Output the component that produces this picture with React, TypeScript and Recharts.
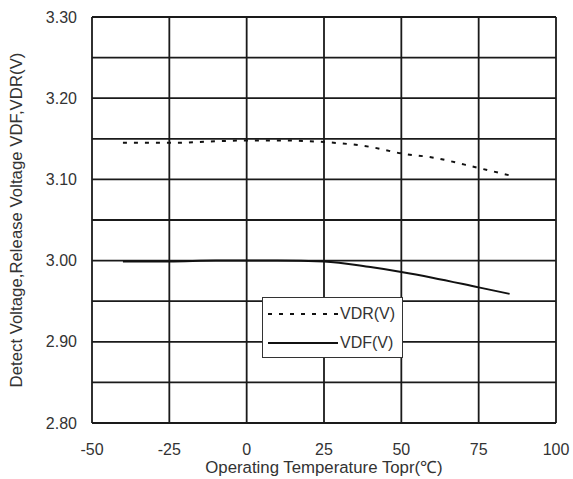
import { LineChart, Line, CartesianGrid, XAxis, YAxis, Label } from "recharts"

const temps = [-40, -25, -10, 0, 10, 25, 40, 50, 60, 75, 85]
const vdr = [3.145, 3.145, 3.147, 3.148, 3.148, 3.146, 3.14, 3.132, 3.127, 3.114, 3.105]
const vdf = [2.999, 2.999, 3.0, 3.0, 3.0, 2.999, 2.992, 2.986, 2.979, 2.967, 2.959]

const xTicks = [-50, -25, 0, 25, 50, 75, 100]
const yTicks = [2.8, 2.85, 2.9, 2.95, 3.0, 3.05, 3.1, 3.15, 3.2, 3.25, 3.3]

const data = temps.map((t, i) => ({ t, vdr: vdr[i], vdf: vdf[i] }))

const font = "'Liberation Sans', Arial, sans-serif"
const txt = { fill: "#333", fontSize: 16, fontFamily: font }
const title = { ...txt, fontSize: 16.8 }

// legend drawn as a plain overlay so it doesn't eat into the plot margins
function LegendBox() {
  return (
    <div
      style={{
        position: "absolute",
        left: 262,
        top: 297,
        width: 141,
        height: 61,
        border: "1.5px solid #333",
        background: "#fff",
        fontFamily: font,
        fontSize: 16,
        color: "#333",
        boxSizing: "border-box",
      }}
    >
      <div style={{ display: "flex", alignItems: "center", height: 31, paddingLeft: 5 }}>
        <svg width={70} height={4}>
          <line x1={0} y1={2} x2={70} y2={2} stroke="#111" strokeWidth={2} strokeDasharray="4 7" />
        </svg>
        <span style={{ marginLeft: 2 }}>VDR(V)</span>
      </div>
      <div style={{ display: "flex", alignItems: "center", height: 27, paddingLeft: 5 }}>
        <svg width={70} height={4}>
          <line x1={0} y1={2} x2={70} y2={2} stroke="#111" strokeWidth={2} />
        </svg>
        <span style={{ marginLeft: 2 }}>VDF(V)</span>
      </div>
    </div>
  )
}

export default function App() {
  return (
    <div style={{ position: "absolute", left: 0, top: 0, width: 573, height: 479, background: "#fff" }}>
      <LineChart width={573} height={479} data={data} margin={{ top: 17, right: 17, left: 0, bottom: 26 }}>
        <CartesianGrid stroke="#1a1a1a" strokeWidth={1.8} horizontalValues={yTicks} verticalValues={xTicks} />
        <XAxis
          dataKey="t"
          type="number"
          domain={[-50, 100]}
          ticks={xTicks}
          height={30}
          axisLine={false}
          tickLine={false}
          tickMargin={15}
          tick={txt}
        >
          <Label value="Operating Temperature Topr(℃)" position="insideBottom" offset={-20} style={title} />
        </XAxis>
        <YAxis
          type="number"
          domain={[2.8, 3.3]}
          ticks={yTicks}
          width={92}
          axisLine={false}
          tickLine={false}
          tickMargin={9}
          interval={0}
          tickFormatter={(v: number) => (Math.round(v * 100) % 10 === 0 ? v.toFixed(2) : "")}
          tick={txt}
        >
          <Label
            value="Detect Voltage,Release Voltage VDF,VDR(V)"
            angle={-90}
            position="insideLeft"
            offset={16}
            style={{ ...title, textAnchor: "middle" }}
          />
        </YAxis>
        <Line dataKey="vdr" type="monotone" stroke="#111" strokeWidth={2} strokeDasharray="4 7" dot={false} isAnimationActive={false} />
        <Line dataKey="vdf" type="monotone" stroke="#111" strokeWidth={2} dot={false} isAnimationActive={false} />
      </LineChart>
      <LegendBox />
    </div>
  )
}
